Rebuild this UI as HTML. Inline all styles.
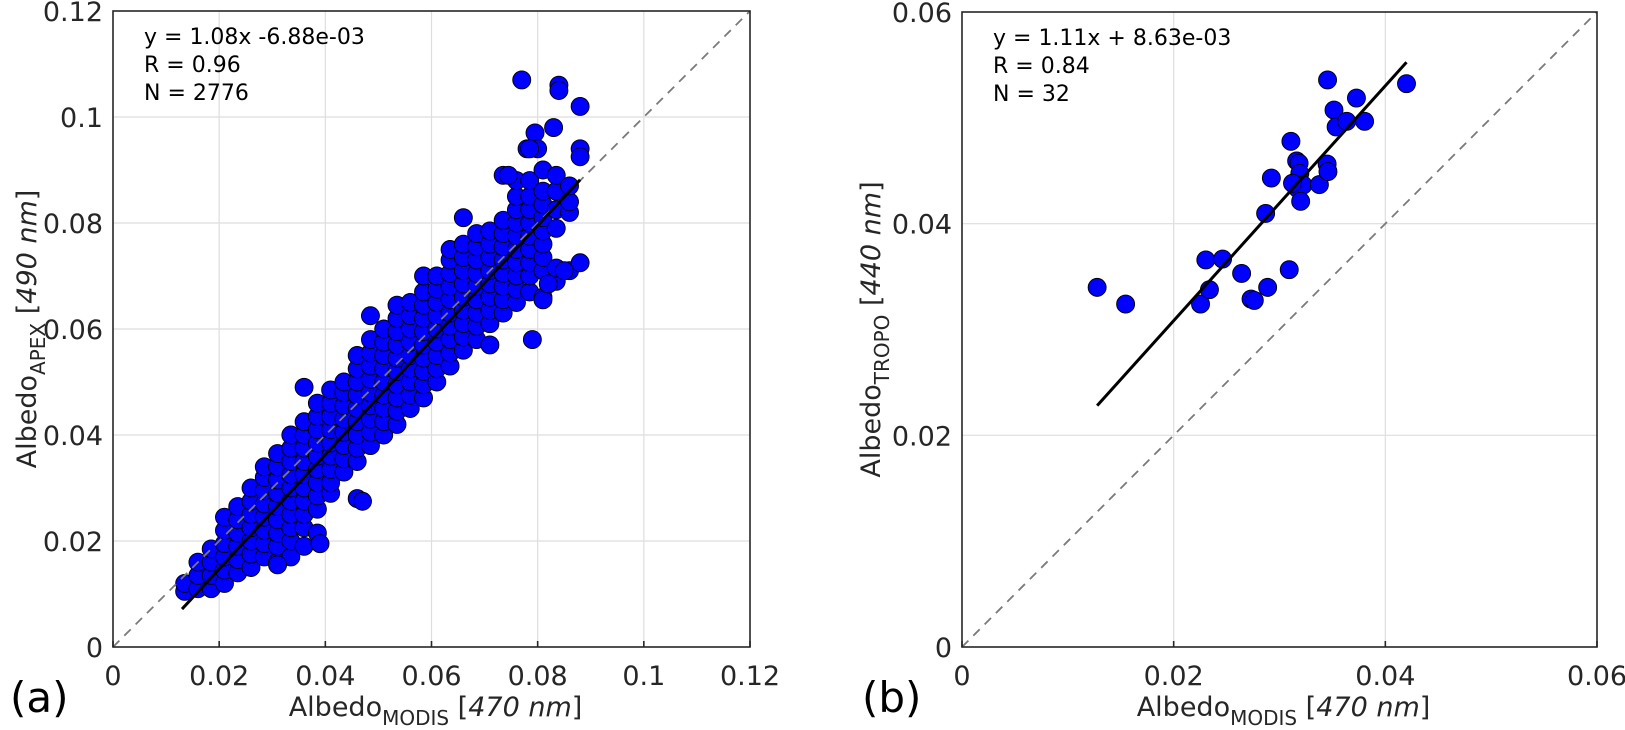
<!DOCTYPE html>
<html><head><meta charset="utf-8">
<style>
html,body{margin:0;padding:0;background:#fff;}
svg{display:block;font-family:"DejaVu Sans","Liberation Sans",sans-serif;}
</style></head>
<body>
<svg id="fig" width="1625" height="730" viewBox="0 0 1625 730" xmlns="http://www.w3.org/2000/svg"></svg>
<script>
// ---------- Panel (a) data ----------
const aColX = [0.0135,0.016,0.0185,0.021,0.0235,0.026,0.0285,0.031,0.0335,0.036,0.0385,0.041,0.0435,0.046,0.0485,0.051,0.0535,0.056,0.0585,0.061,0.0635,0.066,0.0685,0.071,0.0735,0.076,0.0785,0.081,0.0835,0.086];
const aColY = [
 [0.0105,0.012],
 [0.011,0.0135,0.016],
 [0.011,0.0135,0.016,0.0185],
 [0.012,0.0145,0.017,0.0195,0.022,0.0245],
 [0.014,0.0165,0.019,0.0215,0.024,0.0265],
 [0.015,0.0175,0.02,0.0225,0.025,0.0275,0.030],
 [0.017,0.0195,0.022,0.0245,0.027,0.0295,0.032,0.034],
 [0.016,0.019,0.0215,0.024,0.0265,0.029,0.0315,0.034,0.0365],
 [0.017,0.020,0.0225,0.025,0.0275,0.030,0.0325,0.035,0.0375,0.040],
 [0.019,0.0225,0.025,0.0275,0.030,0.0325,0.035,0.0375,0.040,0.0425,0.049],
 [0.0215,0.026,0.0285,0.031,0.0335,0.036,0.0385,0.041,0.0435,0.046],
 [0.029,0.031,0.0335,0.036,0.0385,0.041,0.0435,0.046,0.0485],
 [0.033,0.0355,0.038,0.0405,0.043,0.0455,0.048,0.050],
 [0.028,0.035,0.0375,0.040,0.0425,0.045,0.0475,0.050,0.0525,0.055],
 [0.038,0.0405,0.043,0.0455,0.048,0.0505,0.053,0.0555,0.058,0.0625],
 [0.040,0.0425,0.045,0.0475,0.050,0.0525,0.055,0.0575,0.060],
 [0.042,0.0445,0.047,0.0495,0.052,0.0545,0.057,0.0595,0.062,0.0645],
 [0.045,0.0475,0.050,0.0525,0.055,0.0575,0.060,0.0625,0.065],
 [0.047,0.0495,0.052,0.0545,0.057,0.0595,0.062,0.0645,0.067,0.070],
 [0.050,0.0525,0.055,0.0575,0.060,0.0625,0.065,0.0675,0.070],
 [0.053,0.0555,0.058,0.0605,0.063,0.0655,0.068,0.0705,0.073,0.075],
 [0.056,0.0585,0.061,0.0635,0.066,0.0685,0.071,0.0735,0.076,0.081],
 [0.058,0.0605,0.063,0.0655,0.068,0.0705,0.073,0.0755,0.078],
 [0.057,0.061,0.0635,0.066,0.0685,0.071,0.0735,0.076,0.0785],
 [0.063,0.0655,0.068,0.0705,0.073,0.0755,0.078,0.0805],
 [0.065,0.0675,0.070,0.0725,0.075,0.0775,0.080,0.0825,0.085,0.088],
 [0.067,0.070,0.0725,0.075,0.0775,0.080,0.0825,0.085,0.088],
 [0.066,0.071,0.0735,0.076,0.0785,0.081,0.0835,0.086,0.090],
 [0.069,0.0715,0.079,0.0825,0.086,0.089],
 [0.071,0.082,0.084,0.087]
];
const aOutX = [0.077,0.084,0.084,0.088,0.0795,0.083,0.078,0.080,0.088,0.088,0.088,0.079,0.081,0.0735,0.0745,0.047,0.039,0.031,0.082,0.085,0.0785];
const aOutY = [0.107,0.106,0.105,0.102,0.097,0.098,0.094,0.094,0.094,0.0925,0.0725,0.058,0.0655,0.089,0.089,0.0275,0.0195,0.0155,0.0685,0.071,0.094];
const aFit = {slope:1.08, intercept:-0.00688, x0:0.013, x1:0.088};
const aTicks = [0,0.02,0.04,0.06,0.08,0.1,0.12];
const aTickLabels = ["0","0.02","0.04","0.06","0.08","0.1","0.12"];

// ---------- Panel (b) data ----------
const bX = [0.01277,0.01546,0.02254,0.02304,0.02338,0.02462,0.02642,0.02731,0.02762,0.02888,0.02869,0.02923,0.03092,0.03108,0.03162,0.03185,0.03192,0.03146,0.03173,0.03223,0.03200,0.03377,0.03450,0.03458,0.03454,0.03515,0.03535,0.03635,0.03727,0.03804,0.04200,0.03123];
const bY = [0.03398,0.03240,0.03240,0.03657,0.03376,0.03666,0.03530,0.03288,0.03275,0.03398,0.04097,0.04431,0.03565,0.04778,0.04593,0.04571,0.04475,0.04360,0.04330,0.04365,0.04211,0.04369,0.04563,0.04492,0.05358,0.05073,0.04914,0.04967,0.05187,0.04967,0.05323,0.04382];
const bFit = {slope:1.11, intercept:0.00863, x0:0.01277, x1:0.0420};
const bTicks = [0,0.02,0.04,0.06];
const bTickLabels = ["0","0.02","0.04","0.06"];

const NS = "http://www.w3.org/2000/svg";
const svg = document.getElementById('fig');
function mk(tag, attrs, parent){
  const e = document.createElementNS(NS, tag);
  for (const k in attrs) e.setAttribute(k, attrs[k]);
  (parent||svg).appendChild(e);
  return e;
}

function panel(cfg){
  const g = mk('g', {});
  
  
  const sx = v => cfg.left + v / cfg.max * (cfg.right - cfg.left);
  const sy = v => cfg.bottom - v / cfg.max * (cfg.bottom - cfg.top);
  cfg.ticks.forEach((t,i)=>{
    if (i>0 && i<cfg.ticks.length-1){
      const gv = mk('line',{x1:sx(t),x2:sx(t),y1:cfg.top,y2:cfg.bottom,stroke:'#dedede','stroke-width':1.2},g);
      
      
      const gh = mk('line',{x1:cfg.left,x2:cfg.right,y1:sy(t),y2:sy(t),stroke:'#dedede','stroke-width':1.2},g);
      
      
    }
  });
  cfg.points.forEach(p=>{
    const c = mk('circle',{cx:sx(p[0]),cy:sy(p[1]),r:9,fill:'#0000ff',stroke:'#000','stroke-width':0.9},g);
    
    
  });
  const d = mk('line',{x1:sx(0),y1:sy(0),x2:sx(cfg.max),y2:sy(cfg.max),stroke:'#7a7a7a','stroke-width':1.8,'stroke-dasharray':'9,7'},g);
  
  
  const f = cfg.fit;
  const fl = mk('line',{x1:sx(f.x0),y1:sy(f.slope*f.x0+f.intercept),x2:sx(f.x1),y2:sy(f.slope*f.x1+f.intercept),stroke:'#000','stroke-width':3},g);
  
  
  const b = mk('rect',{x:cfg.left,y:cfg.top,width:cfg.right-cfg.left,height:cfg.bottom-cfg.top,fill:'none',stroke:'#262626','stroke-width':1.6},g);
  
  
  cfg.ticks.forEach((t,i)=>{
    const tk = mk('line',{x1:sx(t),x2:sx(t),y1:cfg.bottom,y2:cfg.bottom-6,stroke:'#262626','stroke-width':1.6},g);
    
    
    const tx = mk('text',{x:sx(t),y:cfg.bottom+38,'text-anchor':'middle','font-size':27,fill:'#262626'},g);
    tx.textContent = cfg.tickLabels[i];
    
    
    const ty = mk('text',{x:cfg.left-10,y:sy(t)+10,'text-anchor':'end','font-size':27,fill:'#262626'},g);
    ty.textContent = cfg.tickLabels[i];
    
    
  });
  cfg.annot.forEach((s,i)=>{
    const a = mk('text',{x:cfg.left+31,y:cfg.top+33+i*28,'font-size':22,fill:'#000'},g);
    a.textContent = s;
    
    
  });
  const cx = (cfg.left+cfg.right)/2 + 4;
  const xl = mk('text',{x:cx,y:716,'text-anchor':'middle','font-size':27,fill:'#262626'},g);
  
  
  xl.innerHTML = 'Albedo<tspan font-size="20" dy="9">MODIS</tspan><tspan dy="-9"> [</tspan><tspan font-style="italic">470 nm</tspan>]';
  const cy = (cfg.top+cfg.bottom)/2;
  const yl = mk('text',{x:0,y:0,'text-anchor':'middle','font-size':27,fill:'#262626',transform:`translate(${cfg.ylabX},${cy}) rotate(-90)`},g);
  
  
  yl.innerHTML = `Albedo<tspan font-size="20" dy="9">${cfg.ysub}</tspan><tspan dy="-9"> [</tspan><tspan font-style="italic">${cfg.ynm}</tspan>]`;
  const pl = mk('text',{x:cfg.letterX,y:712,'font-size':42,fill:'#000'},g);
  pl.textContent = cfg.letter;
  
  
}

const aPoints = [];
aColX.forEach((x,i)=>aColY[i].forEach(y=>aPoints.push([x,y])));
aOutX.forEach((x,i)=>aPoints.push([x,aOutY[i]]));
const bPoints = bX.map((x,i)=>[x,bY[i]]);

panel({name:'panel-a-scatter',left:113,right:750,top:11,bottom:647,max:0.12,ticks:aTicks,tickLabels:aTickLabels,
  points:aPoints,fit:aFit,annot:['y = 1.08x -6.88e-03','R = 0.96','N = 2776'],
  ylabX:36,ysub:'APEX',ynm:'490 nm',letter:'(a)',letterX:10});
panel({name:'panel-b-scatter',left:962,right:1597,top:12,bottom:647,max:0.06,ticks:bTicks,tickLabels:bTickLabels,
  points:bPoints,fit:bFit,annot:['y = 1.11x + 8.63e-03','R = 0.84','N = 32'],
  ylabX:880,ysub:'TROPO',ynm:'440 nm',letter:'(b)',letterX:862});
</script>
</body></html>
